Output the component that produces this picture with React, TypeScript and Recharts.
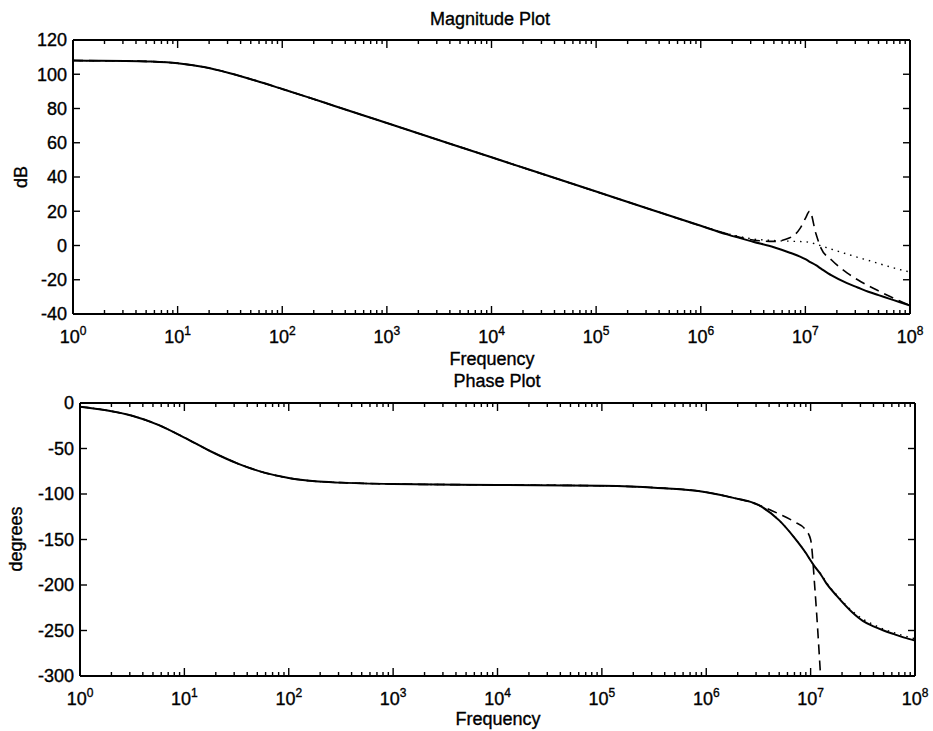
import * as React from 'react';
import { Line, LineChart, XAxis, YAxis } from 'recharts';

// frequency grid (Hz), shared by both plots
const freq = [
  1, 1.78, 3.16, 5.62, 10, 17.8, 31.6, 56.2, 100, 178, 316, 1e3, 1e4, 1e5,
  3.16e5, 1e6, 1.78e6, 3.16e6, 5e6, 7.1e6, 8.9e6, 1e7, 1.1e7, 1.26e7, 1.41e7,
  1.78e7, 2.5e7, 3.16e7, 4e7, 5e7, 6.3e7, 7.9e7, 1e8,
];

// magnitude (dB)
const magSolid = [
  108, 107.9, 107.8, 107.4, 106.4, 104.2, 100.6, 96.2, 91.4, 86.5, 81.5, 71.5,
  51.5, 31.5, 21.5, 11.5, 6.5, 2.2, -1, -4.2, -6.5, -8, -9.5, -11.5, -13.5,
  -17.5, -22, -24.5, -27, -29, -31, -33, -35,
];
const magDashed = [
  108, 107.9, 107.8, 107.4, 106.4, 104.2, 100.6, 96.2, 91.4, 86.5, 81.5, 71.5,
  51.5, 31.5, 21.5, 11.5, 6.8, 3.2, 2.4, 4.5, 10, 15.8, 20, 7, -1.5, -8.5, -16,
  -20, -23.5, -26.5, -29.5, -32.3, -35,
];
const magDotted = [
  108, 107.9, 107.8, 107.4, 106.4, 104.2, 100.6, 96.2, 91.4, 86.5, 81.5, 71.5,
  51.5, 31.5, 21.5, 11.5, 7, 3.8, 2.9, 2.5, 2.3, 2.2, 1.8, 0.8, -0.2, -2.2, -5,
  -6.9, -8.7, -10.5, -12.3, -14, -15.5,
];

// phase (degrees)
const phaseSolid = [
  -4, -8, -14, -24, -38, -53, -66, -76, -82.5, -86, -87.5, -89, -90, -91, -93,
  -98, -104, -112, -129, -149, -164, -173, -180, -189, -198, -212, -230, -239.5,
  -245.5, -250, -254, -257.8, -261,
];
const phaseDashed = [
  -4, -8, -14, -24, -38, -53, -66, -76, -82.5, -86, -87.5, -89, -90, -91, -93,
  -98, -104, -112, -122, -131, -139, -150, -205, -310, null, null, null, null,
  null, null, null, null, null,
];
const phaseDotted = [
  -4, -8, -14, -24, -38, -53, -66, -76, -82.5, -86, -87.5, -89, -90, -91, -93,
  -98, -104, -112, -129, -149, -164, -173, -180, -188, -197, -211, -228.5,
  -237.5, -243.5, -248.5, -252.5, -256, -259,
];

const decades = [1, 10, 100, 1e3, 1e4, 1e5, 1e6, 1e7, 1e8];
const magTicks = [-40, -20, 0, 20, 40, 60, 80, 100, 120];
const phaseTicks = [-300, -250, -200, -150, -100, -50, 0];

const minorTicks: number[] = [];
decades.slice(0, -1).forEach((d) => {
  for (let m = 2; m <= 9; m++) minorTicks.push(d * m);
});
const xTicks = [...decades, ...minorTicks].sort((a, b) => a - b);

const magData = freq.map((f, i) => ({
  f,
  solid: magSolid[i],
  dashed: magDashed[i],
  dotted: magDotted[i],
}));
const phaseData = freq.map((f, i) => ({
  f,
  solid: phaseSolid[i],
  dashed: phaseDashed[i],
  dotted: phaseDotted[i],
}));

const FONT = '"Liberation Sans", Arial, Helvetica, sans-serif';
// the scanned original has heavy glyphs, a hairline stroke thickens ours a bit
const textStyle = { fontFamily: FONT, fill: '#000', stroke: '#000', strokeWidth: 0.35 };

function XTick(props: any) {
  const { x, y, payload, side } = props;
  const v = payload.value;
  const exp = Math.round(Math.log10(v));
  const major = Math.abs(Math.log10(v) - exp) < 1e-6;
  const len = major ? 8 : 4;
  const dir = side === 'bottom' ? -1 : 1;
  return (
    <g>
      <line x1={x} x2={x} y1={y} y2={y + dir * len} stroke="#000" strokeWidth={1.4} />
      {major && side === 'bottom' && (
        <text x={x} y={y + 29} textAnchor="middle" fontSize={18} {...textStyle}>
          10
          <tspan dy={-8} fontSize={12}>
            {exp}
          </tspan>
        </text>
      )}
    </g>
  );
}

function YTick(props: any) {
  const { x, y, payload, side } = props;
  const dir = side === 'left' ? 1 : -1;
  return (
    <g>
      <line x1={x} x2={x + dir * 7} y1={y} y2={y} stroke="#000" strokeWidth={1.4} />
      {side === 'left' && (
        <text x={x - 6} y={y} dy="0.36em" textAnchor="end" fontSize={18} {...textStyle}>
          {payload.value}
        </text>
      )}
    </g>
  );
}

interface BodeProps {
  data: any[];
  height: number;
  margin: { top: number; right: number; bottom: number; left: number };
  domain: [number, number];
  yTicks: number[];
}

// axes are 1px thick so that Recharts still renders them; margins absorb that pixel
function BodePanel({ data, height, margin, domain, yTicks }: BodeProps) {
  const axisLine = { stroke: '#000', strokeWidth: 2 };
  const m = {
    top: margin.top - 1,
    bottom: margin.bottom - 1,
    left: margin.left - 1,
    right: margin.right - 1,
  };
  return (
    <LineChart width={933} height={height} data={data} margin={m}>
      <XAxis
        xAxisId="b"
        dataKey="f"
        type="number"
        scale="log"
        domain={[1, 1e8]}
        allowDataOverflow
        ticks={xTicks}
        interval={0}
        height={1}
        tickSize={0}
        tickMargin={0}
        axisLine={axisLine}
        tickLine={false}
        tick={(p: any) => <XTick {...p} side="bottom" />}
      />
      <XAxis
        xAxisId="t"
        orientation="top"
        dataKey="f"
        type="number"
        scale="log"
        domain={[1, 1e8]}
        allowDataOverflow
        ticks={xTicks}
        interval={0}
        height={1}
        tickSize={0}
        tickMargin={0}
        axisLine={axisLine}
        tickLine={false}
        tick={(p: any) => <XTick {...p} side="top" />}
      />
      <YAxis
        yAxisId="l"
        type="number"
        domain={domain}
        allowDataOverflow
        ticks={yTicks}
        interval={0}
        width={1}
        tickSize={0}
        tickMargin={0}
        axisLine={axisLine}
        tickLine={false}
        tick={(p: any) => <YTick {...p} side="left" />}
      />
      <YAxis
        yAxisId="r"
        orientation="right"
        type="number"
        domain={domain}
        allowDataOverflow
        ticks={yTicks}
        interval={0}
        width={1}
        tickSize={0}
        tickMargin={0}
        axisLine={axisLine}
        tickLine={false}
        tick={(p: any) => <YTick {...p} side="right" />}
      />
      <Line
        xAxisId="b"
        yAxisId="l"
        dataKey="dotted"
        type="monotone"
        stroke="#000"
        strokeWidth={1.4}
        strokeDasharray="1.5 5"
        dot={false}
        activeDot={false}
        isAnimationActive={false}
      />
      <Line
        xAxisId="b"
        yAxisId="l"
        dataKey="dashed"
        type="monotone"
        stroke="#000"
        strokeWidth={1.6}
        strokeDasharray="10 6"
        dot={false}
        activeDot={false}
        isAnimationActive={false}
      />
      <Line
        xAxisId="b"
        yAxisId="l"
        dataKey="solid"
        type="monotone"
        stroke="#000"
        strokeWidth={2}
        dot={false}
        activeDot={false}
        isAnimationActive={false}
      />
    </LineChart>
  );
}

export default function App() {
  const txt = { ...textStyle, fontSize: 18 };
  return (
    <div style={{ position: 'absolute', left: 0, top: 0, width: 933, height: 731, background: '#fff' }}>
      <div style={{ position: 'absolute', left: 0, top: 0 }}>
        <BodePanel
          data={magData}
          height={360}
          margin={{ top: 40, right: 23, bottom: 46, left: 73 }}
          domain={[-40, 120]}
          yTicks={magTicks}
        />
      </div>
      <div style={{ position: 'absolute', left: 0, top: 360 }}>
        <BodePanel
          data={phaseData}
          height={371}
          margin={{ top: 43, right: 18, bottom: 55, left: 80 }}
          domain={[-300, 0]}
          yTicks={phaseTicks}
        />
      </div>
      <svg
        width={933}
        height={731}
        style={{ position: 'absolute', left: 0, top: 0, pointerEvents: 'none' }}
      >
        <text x={490} y={25} textAnchor="middle" {...txt}>
          Magnitude Plot
        </text>
        <text x={492} y={365} textAnchor="middle" {...txt}>
          Frequency
        </text>
        <text x={497} y={387} textAnchor="middle" {...txt}>
          Phase Plot
        </text>
        <text x={498} y={725} textAnchor="middle" {...txt}>
          Frequency
        </text>
        <text transform="translate(27,177) rotate(-90)" textAnchor="middle" {...txt}>
          dB
        </text>
        <text transform="translate(22,539) rotate(-90)" textAnchor="middle" {...txt}>
          degrees
        </text>
      </svg>
    </div>
  );
}
